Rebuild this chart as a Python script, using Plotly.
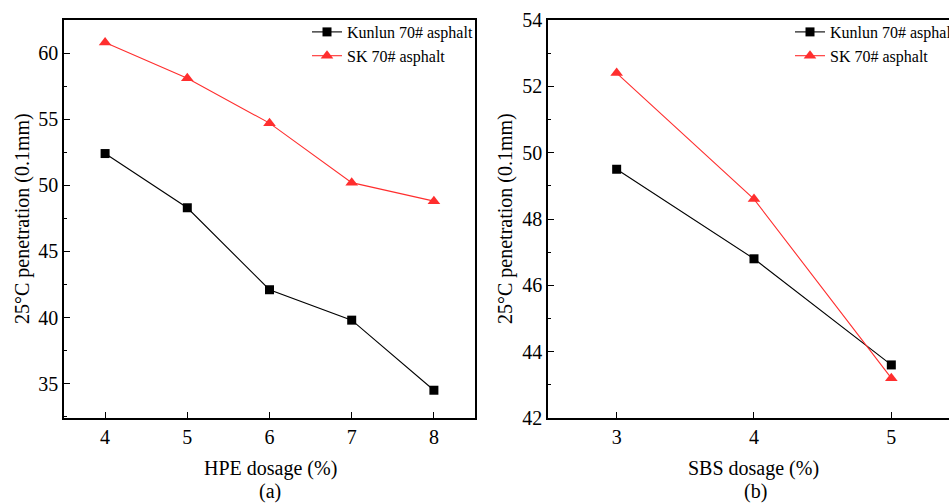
import plotly.graph_objects as go

W, H = 949, 504

# HPE-modified asphalt (panel a)
hpe_dosage = [4, 5, 6, 7, 8]
hpe_kunlun = [52.4, 48.3, 42.1, 39.8, 34.5]
hpe_sk = [60.8, 58.1, 54.7, 50.2, 48.8]

# SBS-modified asphalt (panel b)
sbs_dosage = [3, 4, 5]
sbs_kunlun = [49.5, 46.8, 43.6]
sbs_sk = [52.4, 48.6, 43.2]

series_names = ["Kunlun 70# asphalt", "SK 70# asphalt"]
y_title = "25°C penetration (0.1mm)"

FONT = "Liberation Serif"
BLACK = "#000000"
RED = "#FF2E2E"


def px_x(p):
    return p / W


def px_y(p):
    return 1 - p / H


fig = go.Figure()

# panel (a)
fig.add_trace(go.Scatter(
    x=hpe_dosage, y=hpe_kunlun, name=series_names[0], mode="lines+markers",
    line=dict(color=BLACK, width=1.1), marker=dict(symbol="square", size=9, color=BLACK),
    xaxis="x", yaxis="y", legend="legend"))
fig.add_trace(go.Scatter(
    x=hpe_dosage, y=hpe_sk, name=series_names[1], mode="lines+markers",
    line=dict(color=RED, width=1.1), marker=dict(symbol="triangle-up", size=11, color=RED),
    xaxis="x", yaxis="y", legend="legend"))

# panel (b)
fig.add_trace(go.Scatter(
    x=sbs_dosage, y=sbs_kunlun, name=series_names[0], mode="lines+markers",
    line=dict(color=BLACK, width=1.1), marker=dict(symbol="square", size=9, color=BLACK),
    xaxis="x2", yaxis="y2", legend="legend2"))
fig.add_trace(go.Scatter(
    x=sbs_dosage, y=sbs_sk, name=series_names[1], mode="lines+markers",
    line=dict(color=RED, width=1.1), marker=dict(symbol="triangle-up", size=11, color=RED),
    xaxis="x2", yaxis="y2", legend="legend2"))

axis_common = dict(
    showline=True, linecolor=BLACK, linewidth=1.5, showgrid=False, zeroline=False,
    ticks="inside", ticklen=6, tickwidth=1.2, tickcolor=BLACK,
    tickfont=dict(family=FONT, size=20, color=BLACK), automargin=False,
)

ydom = [px_y(418), px_y(20)]

legend_common = dict(
    xanchor="left", yanchor="top", bgcolor="rgba(0,0,0,0)",
    font=dict(family=FONT, size=16, color=BLACK), tracegroupgap=0, itemwidth=30,
)

fig.update_layout(
    width=W, height=H,
    margin=dict(l=0, r=0, t=0, b=0, autoexpand=False),
    paper_bgcolor="white", plot_bgcolor="white",
    font=dict(family=FONT, color=BLACK),
    xaxis=dict(axis_common, domain=[px_x(64), px_x(475)], range=[3.5, 8.5],
               tickvals=hpe_dosage, mirror=True, anchor="y"),
    yaxis=dict(axis_common, domain=ydom, range=[32.4, 62.5], tick0=35, dtick=5,
               mirror=True, anchor="x",
               minor=dict(ticks="inside", ticklen=3.5, tickwidth=1.1, tickcolor=BLACK, dtick=2.5, tick0=32.5)),
    xaxis2=dict(axis_common, domain=[px_x(548), 1], range=[2.5, 5.42],
                tickvals=sbs_dosage, mirror=True, anchor="y2"),
    yaxis2=dict(axis_common, domain=ydom, range=[42, 54], tick0=42, dtick=2,
                mirror=False, anchor="x2",
                minor=dict(ticks="inside", ticklen=3.5, tickwidth=1.1, tickcolor=BLACK, dtick=1, tick0=42)),
    legend=dict(legend_common, x=px_x(307), y=px_y(15)),
    legend2=dict(legend_common, x=px_x(790), y=px_y(15)),
    showlegend=True,
)

title_font = dict(family=FONT, size=20, color=BLACK)
annotations = [
    dict(text=y_title, x=px_x(22), y=px_y(219), textangle=-90, yanchor="middle"),
    dict(text=y_title, x=px_x(505), y=px_y(219), textangle=-90, yanchor="middle"),
    dict(text="HPE dosage (%)", x=px_x(270), y=px_y(468), yanchor="middle"),
    dict(text="SBS dosage (%)", x=px_x(753), y=px_y(468), yanchor="middle"),
    dict(text="(a)", x=px_x(270), y=0, yanchor="bottom"),
    dict(text="(b)", x=px_x(755), y=0, yanchor="bottom"),
]
for a in annotations:
    fig.add_annotation(xref="paper", yref="paper", xanchor="center", showarrow=False,
                       borderpad=0, font=title_font, **a)

fig.write_html("out.html")
